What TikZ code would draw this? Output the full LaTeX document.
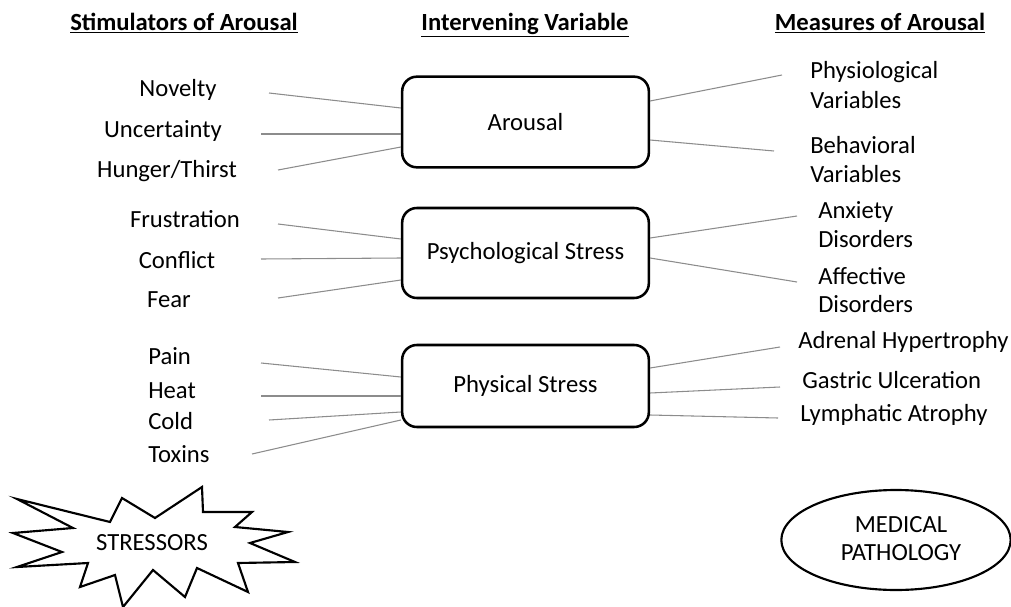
\documentclass[tikz,border=0pt]{standalone}
\usepackage{fontspec}
\setmainfont{Carlito}
\usetikzlibrary{calc,shapes.geometric}
\begin{document}
\begin{tikzpicture}[x=0.75pt,y=-0.75pt,
  lbl/.style={inner sep=0pt,font=\fontsize{18.5}{22}\selectfont},
  hdr/.style={inner sep=0pt,anchor=base,font=\fontsize{18.5}{22}\selectfont\bfseries},
  vbox/.style={draw,line width=1.9pt,rounded corners=11pt,minimum width=185pt,inner sep=0pt,font=\fontsize{18.5}{22}\selectfont},
  conn/.style={draw=black!45,line width=0.8pt}]
\useasboundingbox (0,0) rectangle (1011,607);
% headers
\node[hdr] (h1) at (184,30) {\underline{Stimulators of Arousal}};
\node[hdr] (h2) at (525,30) {\underline{Intervening Variable}};
\node[hdr] (h3) at (880,30) {\underline{Measures of Arousal}};
% boxes
\node[vbox,minimum height=68pt] (ar) at (525.5,122) {Arousal};
\node[vbox,minimum height=67.5pt] (ps) at (525.5,253) {Psychological Stress};
\node[vbox,minimum height=61.5pt] (ph) at (525.5,386) {Physical Stress};
% left labels
\node[lbl,anchor=base] (nov) at (178,96) {Novelty};
\node[lbl,anchor=base] (unc) at (163,137) {Uncertainty};
\node[lbl,anchor=base] (hun) at (167,177) {Hunger/Thirst};
\node[lbl,anchor=base] (fru) at (185,227) {Frustration};
\node[lbl,anchor=base] (con) at (177,268) {Conflict};
\node[lbl,anchor=base] (fea) at (169,307) {Fear};
\node[lbl,anchor=base west] (pai) at (148,364) {Pain};
\node[lbl,anchor=base west] (hea) at (148,398) {Heat};
\node[lbl,anchor=base west] (col) at (148,429) {Cold};
\node[lbl,anchor=base west] (tox) at (148,462) {Toxins};
% right labels
\node[lbl,anchor=base west] (phy1) at (810,78) {Physiological};
\node[lbl,anchor=base west] (phy2) at (810,108) {Variables};
\node[lbl,anchor=base west] (beh1) at (810,153) {Behavioral};
\node[lbl,anchor=base west] (beh2) at (810,182) {Variables};
\node[lbl,anchor=base west] (anx1) at (818,218) {Anxiety};
\node[lbl,anchor=base west] (anx2) at (818,247) {Disorders};
\node[lbl,anchor=base west] (aff1) at (818,284) {Affective};
\node[lbl,anchor=base west] (aff2) at (818,312) {Disorders};
\node[lbl,anchor=base west] (adr) at (798,348) {Adrenal Hypertrophy};
\node[lbl,anchor=base west] (gas) at (802,388) {Gastric Ulceration};
\node[lbl,anchor=base west] (lym) at (800,421) {Lymphatic Atrophy};
% free ends
\coordinate (l1) at (269,93);
\coordinate (l2) at (261,134);
\coordinate (l3) at (278,170);
\coordinate (l4) at (278,224);
\coordinate (l5) at (261,259);
\coordinate (l6) at (278,298);
\coordinate (l7) at (261,363);
\coordinate (l8) at (261,396);
\coordinate (l9) at (269,420);
\coordinate (l10) at (252,454);
\coordinate (r1) at (782,75);
\coordinate (r2) at (774,151);
\coordinate (r3) at (797,216);
\coordinate (r4) at (797,282);
\coordinate (r5) at (780,347);
\coordinate (r6) at (780,387);
\coordinate (r7) at (778,418);
% connectors
\draw[conn] (l1) -- ($(ar.west)+(0,-14)$);
\draw[conn] (l2) -- ($(ar.west)+(0,12)$);
\draw[conn] (l3) -- ($(ar.west)+(0,25)$);
\draw[conn] (l4) -- ($(ps.west)+(0,-14)$);
\draw[conn] (l5) -- ($(ps.west)+(0,5)$);
\draw[conn] (l6) -- ($(ps.west)+(0,27)$);
\draw[conn] (l7) -- ($(ph.west)+(0,-9)$);
\draw[conn] (l8) -- ($(ph.west)+(0,10)$);
\draw[conn] (l9) -- ($(ph.west)+(0,26)$);
\draw[conn] (l10) -- ($(ph.west)+(0,34)$);
\draw[conn] ($(ar.east)+(0,-21)$) -- (r1);
\draw[conn] ($(ar.east)+(0,18)$) -- (r2);
\draw[conn] ($(ps.east)+(0,-15)$) -- (r3);
\draw[conn] ($(ps.east)+(0,5)$) -- (r4);
\draw[conn] ($(ph.east)+(0,-18)$) -- (r5);
\draw[conn] ($(ph.east)+(0,7)$) -- (r6);
\draw[conn] ($(ph.east)+(0,29)$) -- (r7);
% stressors starburst
\draw[line width=1.6pt,line join=miter] (17,499) -- (110,522) -- (122,498) -- (155,518) -- (202,487) -- (203,512) -- (252,512) -- (235,527) -- (288,532) -- (250,543) -- (295,562) -- (238,563) -- (248,592) -- (197,568) -- (185,597) -- (153,570) -- (123,607) -- (115,575) -- (80,587) -- (88,563) -- (17,567) -- (62,552) -- (13,533) -- (73,528) -- cycle;
\node[lbl] (str) at (152,543) {STRESSORS};
% medical pathology
\node[draw,ellipse,line width=1.6pt,minimum width=172pt,minimum height=75pt,inner sep=0pt] (mp) at (896,540) {};
\node[lbl,align=center,font=\fontsize{18.5}{21}\selectfont] (mpt) at (901,539) {MEDICAL\\PATHOLOGY};
\end{tikzpicture}
\end{document}
